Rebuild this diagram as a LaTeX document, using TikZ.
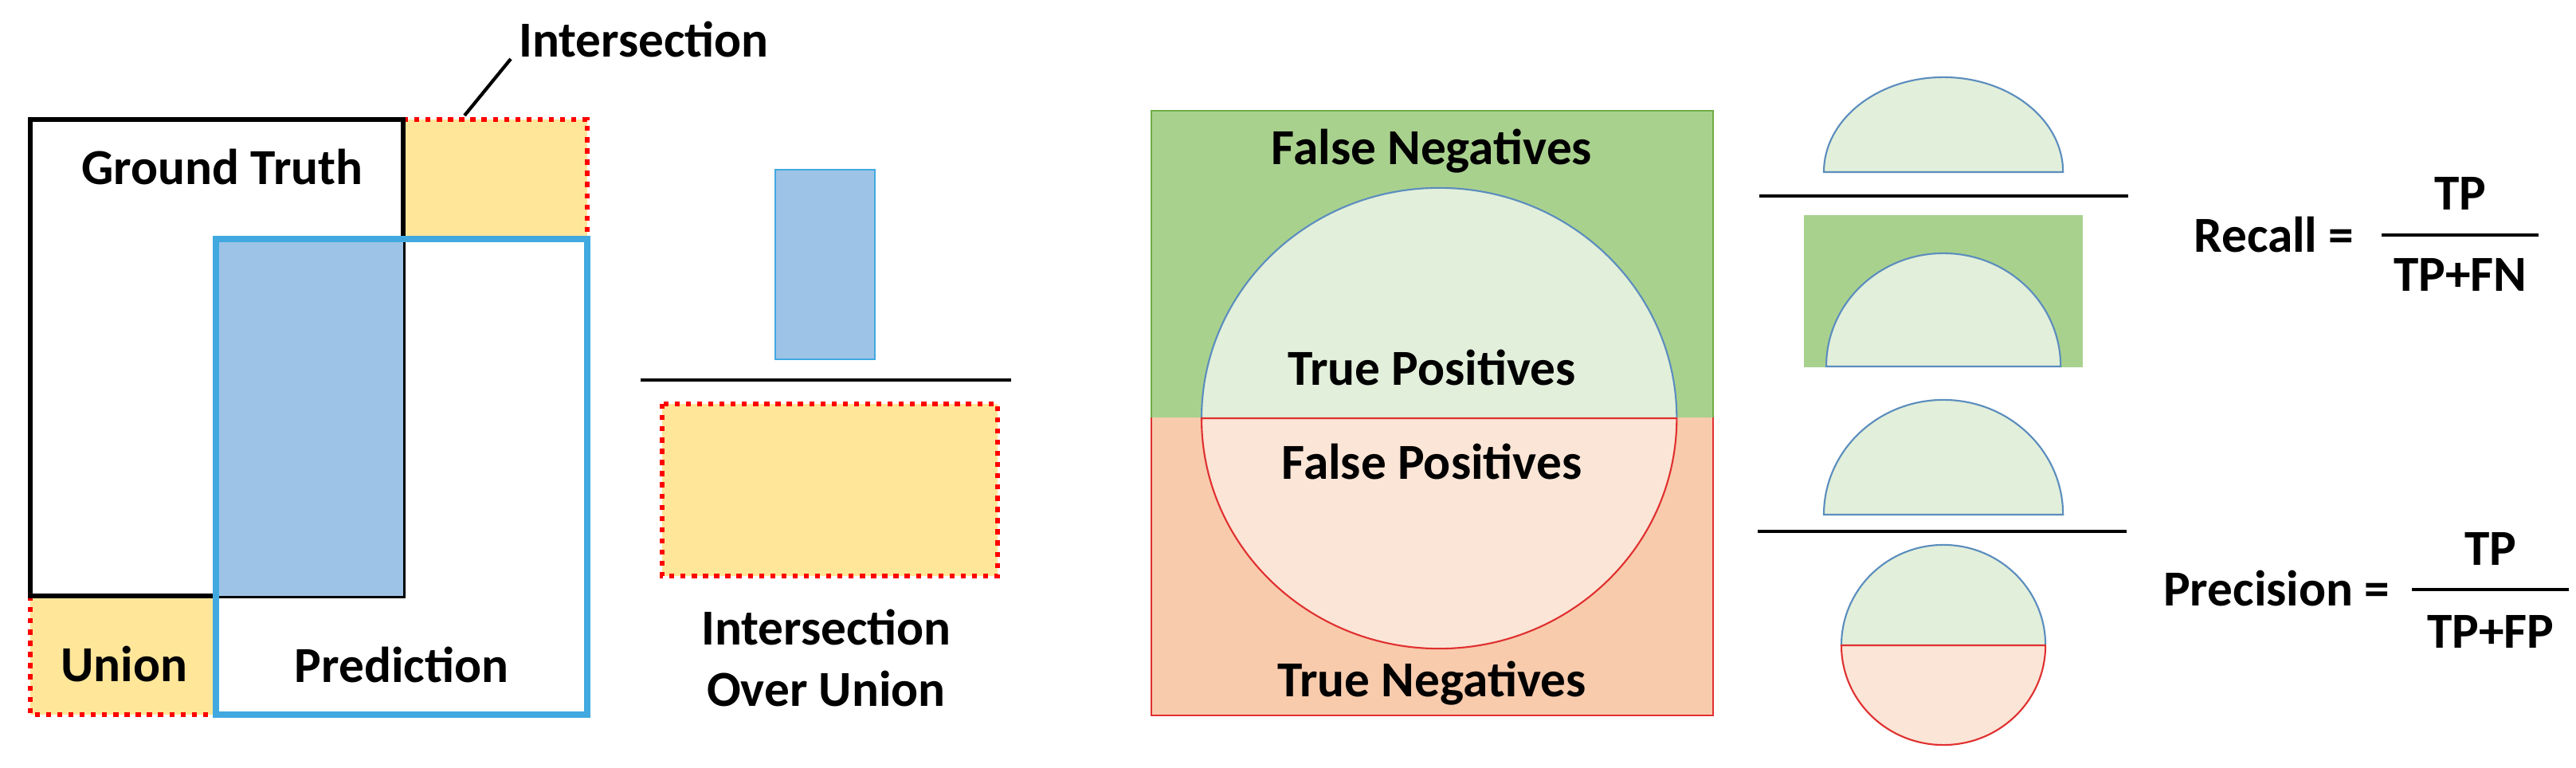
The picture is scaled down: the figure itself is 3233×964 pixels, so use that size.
\documentclass[tikz,border=0pt]{standalone}
\usepackage{fontspec}
\setmainfont{Carlito}
\definecolor{gA}{HTML}{A9D18E}\definecolor{gL}{HTML}{E2EFDA}
\definecolor{oA}{HTML}{F8CBAD}\definecolor{oL}{HTML}{FBE5D6}
\definecolor{bF}{HTML}{9DC3E6}\definecolor{bL}{HTML}{41A9E0}
\definecolor{yF}{HTML}{FFE699}\definecolor{eB}{HTML}{5B8DBE}
\definecolor{eR}{HTML}{E03030}\definecolor{gB}{HTML}{70AD47}
\begin{document}
\begin{tikzpicture}[x=0.01cm,y=0.01cm,
  lbl/.style={font=\fontsize{18}{20}\selectfont\bfseries, inner sep=0},
  dot/.style={draw=red, line width=1.8pt, dash pattern=on 1.8pt off 2.2pt},
  bar/.style={line width=1.4pt}]
\useasboundingbox (0,0) rectangle (3233,-964);
% left panel
\fill[yF] (506,-150) rectangle (737,-300);
\fill[yF] (38,-748) rectangle (271,-897);
\draw[dot] (506,-150) -| (737,-300);
\draw[dot] (38,-748) |- (271,-897);
\draw[line width=1.8pt] (38,-748) rectangle (506,-150);
\fill[bF] (271,-300) rectangle (506,-748);
\draw[bL, line width=2pt] (271,-300) rectangle (737,-897);
\node[lbl] (gt) at (279,-210) {Ground Truth};
\node[lbl] (un) at (156,-834) {Union};
\node[lbl] (pr) at (504,-834) {Prediction};
\node[lbl] (is) at (808,-49) {Intersection};
\coordinate (lt) at (583,-145);
\draw[line width=1.2pt] (641,-74) -- (lt);
% IoU
\node[fill=bF, draw=bL, line width=0.6pt, minimum width=1.25cm, minimum height=2.38cm, inner sep=0] (ib) at (1035.5,-332) {};
\draw[bar] (804,-477) -- (1269,-477);
\fill[yF] (831,-507) rectangle (1252,-723);
\draw[dot] (831,-507) rectangle (1252,-723);
\node[lbl, align=center] (iou) at (1037,-826) {Intersection\\[2pt]Over Union};
% confusion box
\fill[gA] (1445,-139) rectangle (2150,-524);
\fill[oA] (1445,-524) rectangle (2150,-898);
\draw[gB, line width=0.5pt] (1445,-524) |- (2150,-139) -- (2150,-524);
\draw[eR, line width=0.8pt] (1445,-524) |- (2150,-898) -- (2150,-524);
\fill[gL] (1508,-525) arc[start angle=180,end angle=0,x radius=2.98cm,y radius=2.89cm] -- cycle;
\fill[oL] (1508,-525) arc[start angle=180,end angle=360,x radius=2.98cm,y radius=2.89cm] -- cycle;
\draw[eB, line width=0.6pt] (1508,-525) arc[start angle=180,end angle=0,x radius=2.98cm,y radius=2.89cm];
\draw[eR, line width=0.6pt] (1508,-525) arc[start angle=180,end angle=360,x radius=2.98cm,y radius=2.89cm] -- cycle;
\node[lbl] (fn) at (1797,-190) {False Negatives};
\node[lbl] (tp) at (1797,-461) {True Positives};
\node[lbl] (fp) at (1797,-579) {False Positives};
\node[lbl] (tn) at (1797,-858) {True Negatives};
% recall
\draw[eB, fill=gL, line width=0.6pt] (2289,-216) arc[start angle=180,end angle=0,x radius=1.50cm,y radius=1.19cm] -- cycle;
\draw[bar] (2208,-246) -- (2671,-246);
\fill[gA] (2264,-270) rectangle (2614,-461);
\draw[eB, fill=gL, line width=0.6pt] (2292,-460) arc[start angle=180,end angle=0,x radius=1.47cm,y radius=1.42cm] -- cycle;
% precision
\draw[eB, fill=gL, line width=0.6pt] (2289,-646) arc[start angle=180,end angle=0,x radius=1.50cm,y radius=1.44cm] -- cycle;
\draw[bar] (2206,-667) -- (2669,-667);
\fill[gL] (2311,-810) arc[start angle=180,end angle=0,x radius=1.28cm,y radius=1.26cm] -- cycle;
\fill[oL] (2311,-810) arc[start angle=180,end angle=360,x radius=1.28cm,y radius=1.25cm] -- cycle;
\draw[eB, line width=0.6pt] (2311,-810) arc[start angle=180,end angle=0,x radius=1.28cm,y radius=1.26cm];
\draw[eR, line width=0.6pt] (2311,-810) arc[start angle=180,end angle=360,x radius=1.28cm,y radius=1.25cm] -- cycle;
% formulas
\node[lbl, anchor=east] (rc) at (2955,-295) {Recall =};
\draw[bar] (2989,-295) -- (3186,-295);
\node[lbl] (rt) at (3088,-243) {TP};
\node[lbl] (rb) at (3088,-345) {TP+FN};
\node[lbl, anchor=east] (pc) at (3000,-739) {Precision =};
\draw[bar] (3027,-740) -- (3224,-740);
\node[lbl] (pt) at (3126,-689) {TP};
\node[lbl] (pb) at (3126,-793) {TP+FP};
\end{tikzpicture}
\end{document}
